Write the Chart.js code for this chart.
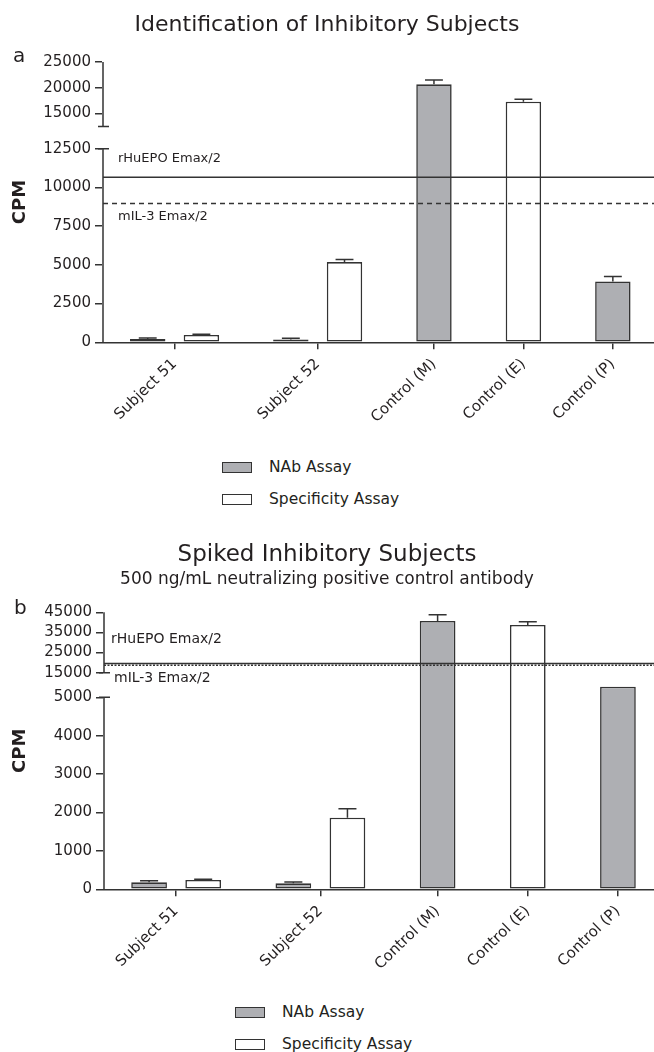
<!DOCTYPE html>
<html>
<head>
<meta charset="utf-8">
<title>Identification of Inhibitory Subjects</title>
<script src="https://cdn.jsdelivr.net/npm/chart.js@4/dist/chart.umd.min.js"></script>
<style>
  html, body { margin: 0; padding: 0; background: #fff; }
  #page { position: relative; width: 654px; height: 1052px; overflow: hidden;
          font-family: 'DejaVu Sans', sans-serif; color: #231f20; }
  #page canvas { position: absolute; left: 0; }
  .panel-tag { position: absolute; font-size: 20px; line-height: 20px; }
  .legend { position: absolute; }
  .legend .row { display: flex; align-items: center; height: 11px; margin-bottom: 21px; }
  .legend .sw { width: 30px; height: 11px; box-sizing: border-box; border: 1.5px solid #333; margin-right: 17px; flex: none; }
  .legend .lbl { font-size: 15.5px; line-height: 11px; white-space: nowrap; }
</style>
</head>
<body>
<div id="page">
  <canvas id="chartA" width="654" height="440" style="top:0px"></canvas>
  <div class="panel-tag" style="left:13px;top:45px">a</div>
  <div class="legend" id="legendA" style="left:222px;top:462px"></div>

  <canvas id="chartB" width="654" height="455" style="top:520px"></canvas>
  <div class="panel-tag" style="left:14px;top:597px">b</div>
  <div class="legend" id="legendB" style="left:235px;top:1007px"></div>
</div>
<script>
// ---- data ---------------------------------------------------------------
const categories = ['Subject 51', 'Subject 52', 'Control (M)', 'Control (E)', 'Control (P)'];
const seriesNames = ['NAb Assay', 'Specificity Assay'];
const refLabels = ['rHuEPO Emax/2', 'mIL-3 Emax/2'];

// Panel a: identification of inhibitory subjects (CPM, mean and upper SD)
const nabA      = [215, 175, 20665, null, 3925];
const nabErrA   = [60, 80, 835, null, 325];
const specA     = [470, 5180, null, 17300, null];
const specErrA  = [45, 170, null, 470, null];
const refA      = [10660, 8960];
const yTicksA   = [0, 2500, 5000, 7500, 10000, 12500, 15000, 20000, 25000];

// Panel b: spiked inhibitory subjects
const nabB      = [182, 156, 40680, null, 9300];
const nabErrB   = [42, 34, 3130, null, null];
const specB     = [242, 1865, null, 38690, null];
const specErrB  = [18, 234, null, 1640, null];
const refB      = [19600, 18700];
const yTicksB   = [0, 1000, 2000, 3000, 4000, 5000, 15000, 25000, 35000, 45000];

// ---- styling ------------------------------------------------------------
const FONT = "'DejaVu Sans', sans-serif";
const INK = '#231f20';
const AXIS = '#333333';
const GRAY = '#aeafb3';
Chart.defaults.font.family = FONT;
Chart.defaults.color = INK;

// ---- linear scale with a discontinuity (broken axis) --------------------
const LinearBase = Chart.LinearScale || Chart.registry.getScale('linear');
class BrokenLinearScale extends LinearBase {
  _breakLayout() {
    const o = this.options;
    const gap = o.breakGap;
    const usable = this.bottom - this.top - gap;
    const lowH = usable * o.lowerShare;
    const lowTop = this.bottom - lowH;
    const upBottom = lowTop - gap;
    return { gap, lowH, lowTop, upBottom, upH: upBottom - this.top };
  }
  getPixelForValue(value) {
    if (value === null || value === undefined || isNaN(value)) return NaN;
    const o = this.options, L = this._breakLayout();
    const a = o.breakLow, b = o.breakHigh;
    if (value <= a) return this.bottom - (value - this.min) / (a - this.min) * L.lowH;
    if (value >= b) return L.upBottom - (value - b) / (this.max - b) * L.upH;
    return L.lowTop - (value - a) / (b - a) * L.gap;
  }
  getValueForPixel(pixel) {
    const o = this.options, L = this._breakLayout();
    const a = o.breakLow, b = o.breakHigh;
    if (pixel >= L.lowTop) return this.min + (this.bottom - pixel) / L.lowH * (a - this.min);
    if (pixel <= L.upBottom) return b + (L.upBottom - pixel) / L.upH * (this.max - b);
    return a + (L.lowTop - pixel) / L.gap * (b - a);
  }
  // axis line drawn as two segments with short caps at the break
  drawBorder() {
    const ctx = this.ctx, o = this.options, L = this._breakLayout();
    const x = this.right;
    ctx.save();
    ctx.strokeStyle = o.border.color;
    ctx.lineWidth = o.border.width;
    ctx.beginPath();
    ctx.moveTo(x, this.bottom); ctx.lineTo(x, L.lowTop);
    ctx.moveTo(x, L.upBottom); ctx.lineTo(x, this.top);
    ctx.moveTo(x - 5, L.lowTop); ctx.lineTo(x + 6, L.lowTop);
    ctx.moveTo(x - 5, L.upBottom); ctx.lineTo(x + 6, L.upBottom);
    ctx.stroke();
    ctx.restore();
  }
}
BrokenLinearScale.id = 'brokenLinear';
Chart.register(BrokenLinearScale);

// ---- bar placement: paired bars inside a group, wider gap between groups --
const PAIR_STEP = 0.6;
const GROUP_STEP = 1.0;
function layoutBars(nab, spec) {
  const nabPts = [], specPts = [], centers = [];
  let cursor = 0;
  categories.forEach((c, i) => {
    const xs = [];
    [[nab, nabPts], [spec, specPts]].forEach(([vals, pts]) => {
      if (vals[i] === null) return;
      if (xs.length) cursor += PAIR_STEP;
      xs.push(cursor);
      pts.push({ x: cursor, y: vals[i], i });
    });
    centers.push(xs.reduce((s, v) => s + v, 0) / xs.length);
    cursor += GROUP_STEP;
  });
  return { nabPts, specPts, centers };
}

// error bars (upper only) as broken line paths: stem + cap
function errorPath(points, errs, half) {
  const out = [];
  points.forEach(p => {
    const e = errs[p.i];
    if (e === null || e === undefined) return;
    const top = p.y + e;
    out.push({ x: p.x, y: p.y }, { x: p.x, y: top }, { x: p.x, y: null },
             { x: p.x - half, y: top }, { x: p.x + half, y: top }, { x: p.x + half, y: null });
  });
  return out;
}

function refLabelPlugin(items, size) {
  return {
    id: 'refLabels',
    afterDatasetsDraw(chart) {
      const { ctx, chartArea, scales } = chart;
      ctx.save();
      ctx.font = size + 'px ' + FONT;
      ctx.fillStyle = INK;
      ctx.textAlign = 'left';
      ctx.textBaseline = 'middle';
      items.forEach(it => {
        ctx.fillText(it.text, chartArea.left + it.dx, scales.y.getPixelForValue(it.value) + it.dy);
      });
      ctx.restore();
    }
  };
}

function makeChart(canvasId, p) {
  const L = layoutBars(p.nab, p.spec);
  const lineBase = { type: 'line', borderColor: AXIS, borderWidth: 1.5, pointRadius: 0,
                     pointHoverRadius: 0, fill: false, tension: 0, spanGaps: false, order: 0 };
  const barBase = { type: 'bar', grouped: false, borderColor: AXIS, borderWidth: 1.6,
                    borderSkipped: false, categoryPercentage: 1, barPercentage: 0.66, order: 1 };
  const datasets = [
    Object.assign({}, lineBase, { label: 'err', data: errorPath(L.nabPts, p.nabErr, 0.1).concat(errorPath(L.specPts, p.specErr, 0.1)) }),
    Object.assign({}, lineBase, { label: refLabels[0], data: [{ x: p.xMin, y: p.ref[0] }, { x: p.xMax, y: p.ref[0] }] }),
    Object.assign({}, lineBase, { label: refLabels[1], borderDash: p.dash, data: [{ x: p.xMin, y: p.ref[1] }, { x: p.xMax, y: p.ref[1] }] }),
    Object.assign({}, barBase, { label: seriesNames[0], data: L.nabPts, backgroundColor: GRAY }),
    Object.assign({}, barBase, { label: seriesNames[1], data: L.specPts, backgroundColor: '#ffffff' })
  ];
  const labelItems = [
    { text: refLabels[0], value: p.ref[0], dx: p.labelDx[0], dy: p.labelDy[0] },
    { text: refLabels[1], value: p.ref[1], dx: p.labelDx[1], dy: p.labelDy[1] }
  ];
  const plugins = { legend: { display: false }, tooltip: { enabled: false },
                    title: p.title, subtitle: p.subtitle || { display: false } };
  return new Chart(document.getElementById(canvasId), {
    type: 'bar',
    data: { datasets },
    options: {
      responsive: false, animation: false, events: [], devicePixelRatio: 1,
      layout: { padding: { left: 0, right: 0, top: 0, bottom: 0 } },
      plugins,
      scales: {
        x: {
          type: 'linear', min: p.xMin, max: p.xMax, bounds: 'data', offset: false,
          afterBuildTicks: s => { s.ticks = L.centers.map(v => ({ value: v })); },
          afterFit: s => { s.height = p.xAxisHeight; },
          grid: { display: true, offset: false, drawOnChartArea: false, drawTicks: true, tickLength: 7, color: AXIS, lineWidth: 1.5 },
          border: { display: true, color: AXIS, width: 1.5 },
          ticks: { autoSkip: false, minRotation: 44, maxRotation: 44, padding: 6,
                   font: { size: 15 }, color: INK, callback: (v, i) => categories[i] }
        },
        y: {
          type: 'brokenLinear', min: 0, max: p.yMax, bounds: 'data',
          breakLow: p.breakLow, breakHigh: p.breakHigh, breakGap: p.breakGap, lowerShare: p.lowerShare,
          afterBuildTicks: s => { s.ticks = p.yTicks.map(v => ({ value: v })); },
          afterFit: s => { s.width = p.yAxisWidth; },
          grid: { display: true, offset: false, drawOnChartArea: false, drawTicks: true, tickLength: 8, color: AXIS, lineWidth: 1.5 },
          border: { display: true, color: AXIS, width: 1.5 },
          ticks: { autoSkip: false, padding: 4, font: { size: 15 }, color: INK, callback: v => String(v) },
          title: { display: true, text: 'CPM', color: INK, font: { size: 18, weight: 'bold' }, padding: { top: 10, bottom: 0 } }
        }
      }
    },
    plugins: [refLabelPlugin(labelItems, p.labelSize)]
  });
}

function buildLegend(elId, chart) {
  const el = document.getElementById(elId);
  chart.data.datasets.filter(d => d.type === 'bar').forEach(d => {
    const row = document.createElement('div');
    row.className = 'row';
    const sw = document.createElement('span');
    sw.className = 'sw';
    sw.style.background = d.backgroundColor;
    const lbl = document.createElement('span');
    lbl.className = 'lbl';
    lbl.textContent = d.label;
    row.appendChild(sw); row.appendChild(lbl);
    el.appendChild(row);
  });
}

const chartA = makeChart('chartA', {
  nab: nabA, nabErr: nabErrA, spec: specA, specErr: specErrA, ref: refA, yTicks: yTicksA,
  yMax: 25000, breakLow: 12500, breakHigh: 12500, breakGap: 22.3, lowerShare: 0.75,
  xMin: -0.5, xMax: 5.66, xAxisHeight: 97.7, yAxisWidth: 103,
  dash: [5, 4], labelSize: 13, labelDx: [15, 15], labelDy: [-18.7, 13],
  title: { display: true, text: 'Identification of Inhibitory Subjects', color: INK,
           font: { size: 22, weight: 'normal' }, padding: { top: 12, bottom: 23.5 } }
});

const chartB = makeChart('chartB', {
  nab: nabB, nabErr: nabErrB, spec: specB, specErr: specErrB, ref: refB, yTicks: yTicksB,
  yMax: 45000, breakLow: 5000, breakHigh: 15000, breakGap: 24.6, lowerShare: 0.7607,
  xMin: -0.5, xMax: 5.6, xAxisHeight: 85.7, yAxisWidth: 104,
  dash: [2, 1.5], labelSize: 14, labelDx: [7, 10], labelDy: [-24.4, 13],
  title: { display: true, text: 'Spiked Inhibitory Subjects', color: INK,
           font: { size: 23, weight: 'normal' }, padding: { top: 21.2, bottom: 0 } },
  subtitle: { display: true, text: '500 ng/mL neutralizing positive control antibody', color: INK,
              font: { size: 17, weight: 'normal' }, padding: { top: 1, bottom: 22.1 } }
});

buildLegend('legendA', chartA);
buildLegend('legendB', chartB);
</script>
</body>
</html>
